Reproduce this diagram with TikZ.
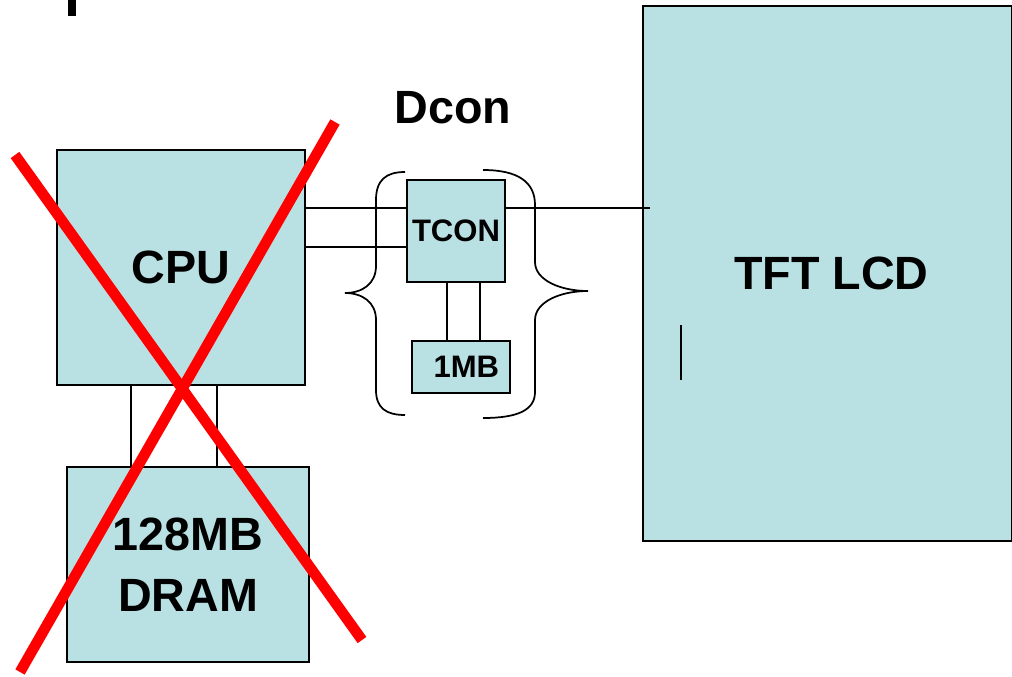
\documentclass[tikz,border=0pt]{standalone}
\usepackage{fontspec}
\setmainfont{Liberation Sans}
\definecolor{boxfill}{RGB}{185,224,227}
\newcommand{\uu}{0.75pt}
\tikzset{
  box/.style={draw=black, fill=boxfill, line width=1.4pt, inner sep=0pt, align=center,
              font=\bfseries\fontsize{35}{44}\selectfont},
  smallbox/.style={box, font=\bfseries\fontsize{23.3}{28}\selectfont},
  bigtext/.style={font=\bfseries\fontsize{35}{41}\selectfont, inner sep=0pt},
  wire/.style={line width=1.1pt},
  bracepath/.style={line width=1.3pt},
  cross/.style={draw=red, line width=8pt},
}
\begin{document}
\begin{tikzpicture}[x=0.75pt, y=-0.75pt]
\useasboundingbox (0,0) rectangle (1012,677);
% small black fragment at top-left
\fill[black] (68,0) rectangle (76,16);
% boxes
\node[box, minimum width={248*\uu}, minimum height={235*\uu}] (cpu) at (181,267.5) {CPU};
\node[box, minimum width={242*\uu}, minimum height={195*\uu}] (dram) at (188,564.5) {\raisebox{0pt}{128MB}\\[2pt]DRAM};
\node[smallbox, minimum width={98*\uu}, minimum height={102*\uu}] (tcon) at (456,231) {TCON};
\node[smallbox, minimum width={98*\uu}, minimum height={52*\uu}] (mem) at (461,367) {\hspace*{8pt}1MB};
\node[box, minimum width={369*\uu}, minimum height={535*\uu}] (lcd) at (827.5,273.5) {\hspace*{6pt}TFT LCD};
\node[bigtext] (dcon) at (453,108) {Dcon};
% connectors
\draw[wire] (cpu.south -| 131,0) -- (dram.north -| 131,0);
\draw[wire] (cpu.south -| 217,0) -- (dram.north -| 217,0);
\draw[wire] (cpu.east |- 0,208) -- (tcon.west |- 0,208);
\draw[wire] (cpu.east |- 0,247) -- (tcon.west |- 0,247);
\draw[wire] (tcon.south -| 447,0) -- (mem.north -| 447,0);
\draw[wire] (tcon.south -| 480,0) -- (mem.north -| 480,0);
\coordinate (lcdin) at (650,208);
\draw[wire] (tcon.east |- 0,208) -- (lcdin);
% small mark inside LCD
\draw[line width=1.6pt] (681,325) -- (681,380);
% braces
\draw[bracepath] (405,172) .. controls (386,172) and (376,180) .. (376,200) -- (376,266)
  .. controls (376,284) and (362,293) .. (345,293)
  .. controls (362,293) and (376,302) .. (376,320) -- (376,390)
  .. controls (376,408) and (386,415) .. (405,415);
\draw[bracepath] (483,170) .. controls (518,170) and (535,182) .. (535,205) -- (535,262)
  .. controls (535,280) and (560,291) .. (588,291)
  .. controls (560,291) and (535,302) .. (535,320) -- (535,392)
  .. controls (535,410) and (518,418) .. (483,418);
% red cross
\draw[cross] (15,155) -- (362,640);
\draw[cross] (335,122) -- (20,672);
\end{tikzpicture}
\end{document}
